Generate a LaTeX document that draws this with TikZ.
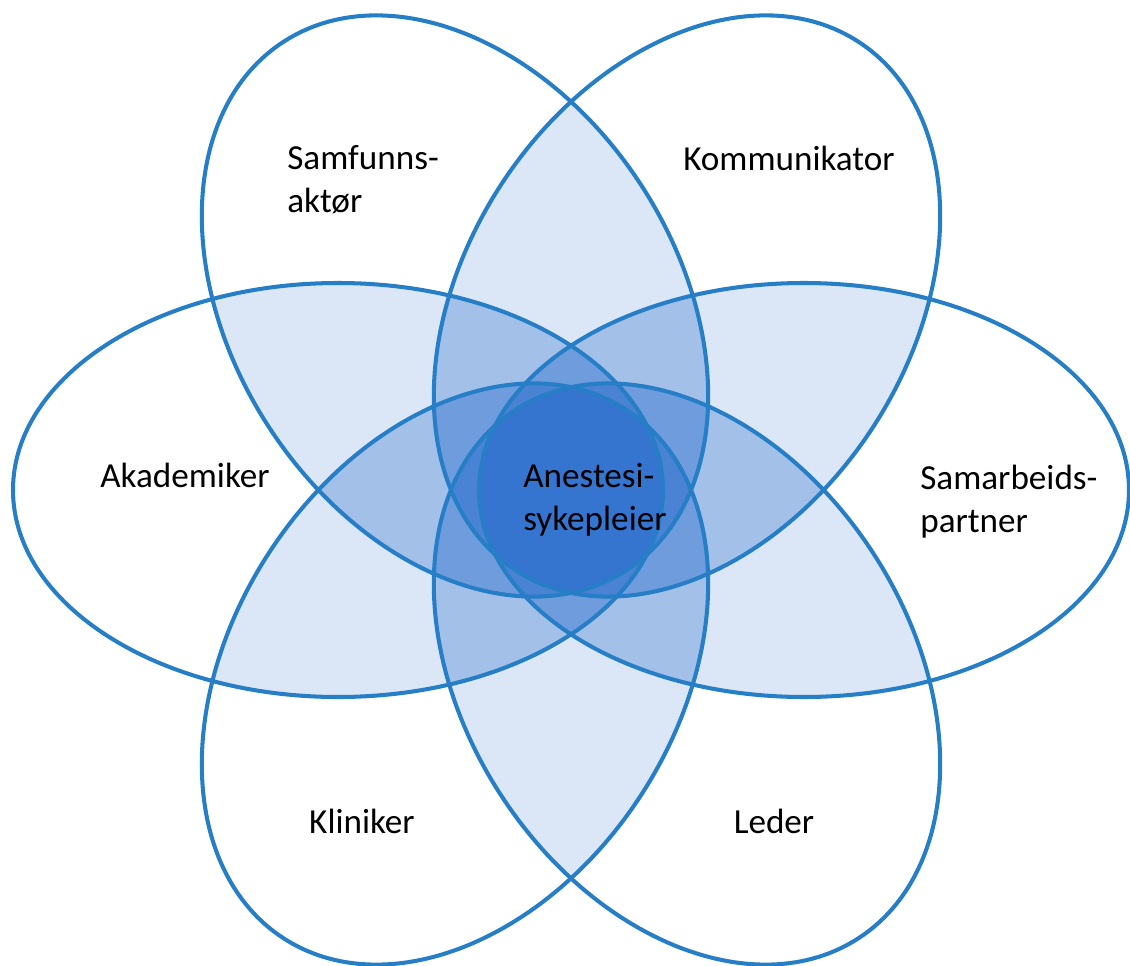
\documentclass[tikz,border=0pt]{standalone}
\usepackage{fontspec}
\setmainfont{Carlito}
\usepackage{tikz}
\usepackage{xcolor}

\definecolor{petalline}{RGB}{38,126,198}
\definecolor{petalfill}{RGB}{40,108,204}

% the six petals
\def\akadpath{(-4.66,0) ellipse (6.5 and 4.14)}
\def\sampath{(4.66,0) ellipse (6.5 and 4.14)}
\def\kommpath{[rotate around={57:(2.32,3.68)}] (2.32,3.68) ellipse (6.3 and 4.44)}
\def\samfpath{[rotate around={-57:(-2.32,3.68)}] (-2.32,3.68) ellipse (6.3 and 4.44)}
\def\klinpath{[rotate around={57:(-2.32,-3.68)}] (-2.32,-3.68) ellipse (6.3 and 4.44)}
\def\ledpath{[rotate around={-57:(2.32,-3.68)}] (2.32,-3.68) ellipse (6.3 and 4.44)}

\tikzset{
  petal/.style={draw=petalline, line width=2.3pt},
  overlap/.style={fill=petalfill, fill opacity=0.17},
  role/.style={font=\fontsize{20}{24.5}\selectfont, align=left, inner sep=0pt}
}

\begin{document}
\begin{tikzpicture}
 \useasboundingbox (-11.42,-9.5) rectangle (11.18,9.8);

 % every pair of petals gets one light layer
 \begin{scope} \clip \akadpath; \fill[overlap] \samfpath; \end{scope}
 \begin{scope} \clip \akadpath; \fill[overlap] \kommpath; \end{scope}
 \begin{scope} \clip \akadpath; \fill[overlap] \sampath; \end{scope}
 \begin{scope} \clip \akadpath; \fill[overlap] \ledpath; \end{scope}
 \begin{scope} \clip \akadpath; \fill[overlap] \klinpath; \end{scope}
 \begin{scope} \clip \samfpath; \fill[overlap] \kommpath; \end{scope}
 \begin{scope} \clip \samfpath; \fill[overlap] \sampath; \end{scope}
 \begin{scope} \clip \samfpath; \fill[overlap] \ledpath; \end{scope}
 \begin{scope} \clip \samfpath; \fill[overlap] \klinpath; \end{scope}
 \begin{scope} \clip \kommpath; \fill[overlap] \sampath; \end{scope}
 \begin{scope} \clip \kommpath; \fill[overlap] \ledpath; \end{scope}
 \begin{scope} \clip \kommpath; \fill[overlap] \klinpath; \end{scope}
 \begin{scope} \clip \sampath; \fill[overlap] \ledpath; \end{scope}
 \begin{scope} \clip \sampath; \fill[overlap] \klinpath; \end{scope}
 \begin{scope} \clip \ledpath; \fill[overlap] \klinpath; \end{scope}

 \draw[petal] \akadpath;
 \draw[petal] \samfpath;
 \draw[petal] \kommpath;
 \draw[petal] \sampath;
 \draw[petal] \ledpath;
 \draw[petal] \klinpath;

 \node[role, anchor=west] (samfunn) at (-5.68,6.2) {Samfunns-\\aktør};
 \node[role] (komm) at (4.36,6.64) {Kommunikator};
 \node[role] (akad) at (-7.72,0.3) {Akademiker};
 \node[role, anchor=west] (samarb) at (6.98,-0.23) {Samarbeids-\\partner};
 \node[role, anchor=west] (anest) at (-0.96,-0.2) {Anestesi-\\sykepleier};
 \node[role] (klin) at (-4.18,-6.62) {Kliniker};
 \node[role] (leder) at (4.06,-6.62) {Leder};
\end{tikzpicture}
\end{document}
